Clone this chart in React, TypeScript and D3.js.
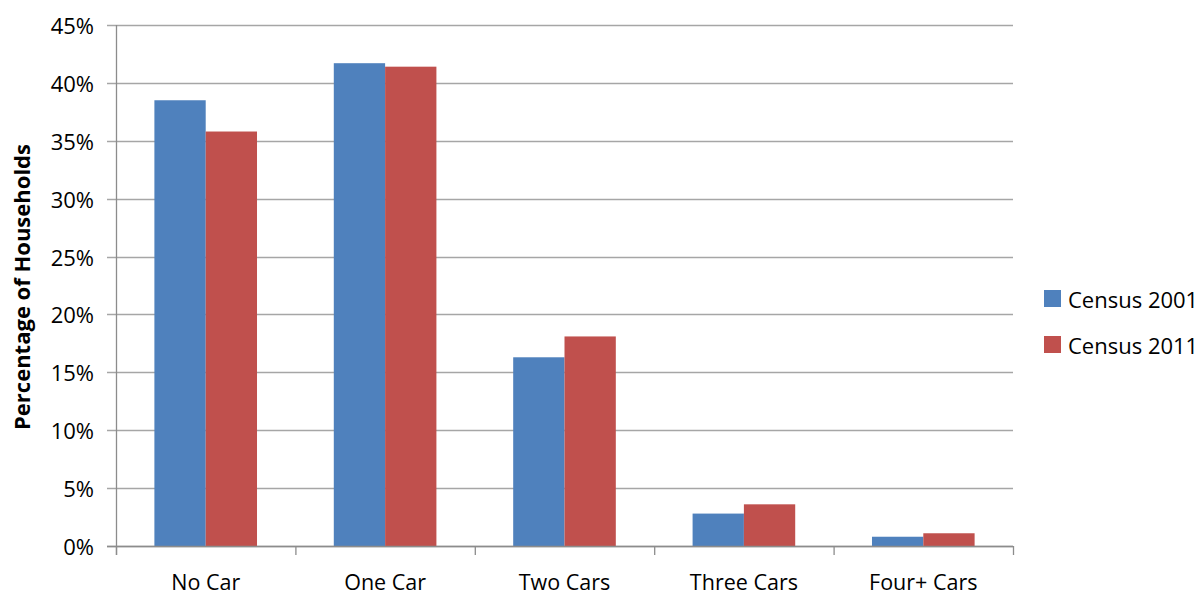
import React from "react";
import * as d3 from "d3";

const categories = ["No Car", "One Car", "Two Cars", "Three Cars", "Four+ Cars"];
const seriesNames = ["Census 2001", "Census 2011"];
const census2001 = [38.5, 41.7, 16.3, 2.8, 0.8];
const census2011 = [35.8, 41.4, 18.1, 3.6, 1.1];
const yTicks = [0, 5, 10, 15, 20, 25, 30, 35, 40, 45];
const colors = ["#4F81BD", "#C0504D"];

const W = 1204;
const H = 598;
const plot = { left: 116, right: 1013, top: 25, bottom: 546 };
const FONT = "'Open Sans', 'DejaVu Sans', sans-serif";

export default function App() {
  const gap = 0.428;
  const x = d3
    .scaleBand<string>()
    .domain(categories)
    .range([plot.left, plot.right])
    .paddingInner(gap)
    .paddingOuter(gap / 2);
  const xs = d3.scaleBand<string>().domain(seriesNames).range([0, x.bandwidth()]);
  const y = d3.scaleLinear().domain([0, 45]).range([plot.bottom, plot.top]);
  const series = [census2001, census2011];
  const halfGap = (x.step() - x.bandwidth()) / 2;
  const boundaries = [...categories.map((c) => (x(c) as number) - halfGap), plot.right];
  const gridColor = "#a6a6a6";

  return (
    <svg
      width={W}
      height={H}
      style={{ position: "absolute", left: 0, top: 0, background: "#fff" }}
      fontFamily={FONT}
    >
      {/* horizontal gridlines with tick marks */}
      {yTicks.map((t) => (
        <line
          key={"g" + t}
          x1={plot.left - 9}
          x2={plot.right}
          y1={Math.round(y(t)) + 0.5}
          y2={Math.round(y(t)) + 0.5}
          stroke={gridColor}
          strokeWidth={1.3}
        />
      ))}
      {yTicks.map((t) => (
        <text
          key={"yl" + t}
          x={94}
          y={y(t)}
          textAnchor="end"
          dominantBaseline="central"
          fontSize={22}
          fill="#000"
        >
          {t + "%"}
        </text>
      ))}
      {/* bars */}
      {categories.map((c, i) =>
        series.map((vals, s) => (
          <rect
            key={c + s}
            x={(x(c) as number) + (xs(seriesNames[s]) as number)}
            y={y(vals[i])}
            width={xs.bandwidth()}
            height={y(0) - y(vals[i])}
            fill={colors[s]}
          />
        ))
      )}
      {/* axes */}
      <line x1={plot.left + 0.5} x2={plot.left + 0.5} y1={plot.top} y2={plot.bottom + 9} stroke="#8c8c8c" strokeWidth={1.3} />
      <line x1={plot.left - 9} x2={plot.right} y1={plot.bottom + 0.5} y2={plot.bottom + 0.5} stroke="#8c8c8c" strokeWidth={1.3} />
      {boundaries.map((b, i) => (
        <line key={"xt" + i} x1={b + 0.5} x2={b + 0.5} y1={plot.bottom} y2={plot.bottom + 9} stroke="#8c8c8c" strokeWidth={1.3} />
      ))}
      {categories.map((c) => (
        <text
          key={"xl" + c}
          x={(x(c) as number) + x.bandwidth() / 2}
          y={590}
          textAnchor="middle"
          fontSize={21.5}
          fill="#000"
        >
          {c}
        </text>
      ))}
      {/* y-axis title */}
      <text
        transform={`translate(30, ${287}) rotate(-90)`}
        textAnchor="middle"
        fontSize={22}
        fontWeight="bold"
        fill="#000"
      >
        Percentage of Households
      </text>
      {/* legend */}
      {seriesNames.map((n, i) => (
        <g key={n} transform={`translate(1044, ${290 + i * 46})`}>
          <rect x={0} y={0} width={17} height={17} fill={colors[i]} />
          <text x={24} y={8.5} dominantBaseline="central" fontSize={22} fill="#000">
            {n}
          </text>
        </g>
      ))}
    </svg>
  );
}
